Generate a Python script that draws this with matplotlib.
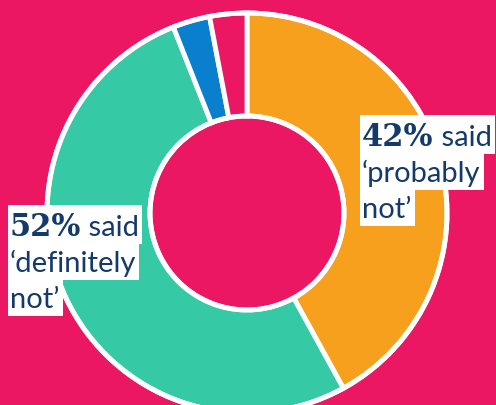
import matplotlib
matplotlib.use("Agg")
import matplotlib.pyplot as plt
from matplotlib.patches import Rectangle

# Survey answers
respuestas = ["probably not", "definitely not", "probably yes", "definitely yes"]
porcentajes = [42, 52, 3, 3]
colores = ["#F7A01E", "#35C9A5", "#0A7FCE", "#EC1763"]

fondo = "#EC1763"
azul_texto = "#143A6B"

W, H = 496, 406
fig = plt.figure(figsize=(W / 100, H / 100), dpi=100, facecolor=fondo)
ax = fig.add_axes([0, 0, 1, 1])

# Donut
centro = (247, H - 214)
radio = 200
ax.pie(porcentajes, colors=colores, startangle=90, counterclock=False,
       center=centro, radius=radio, frame=True,
       wedgeprops=dict(width=103, edgecolor="white", linewidth=3.5))
ax.add_patch(plt.Circle(centro, radio, fill=False, edgecolor="white", lw=3.5, zorder=5))
ax.add_patch(plt.Circle(centro, radio - 103, fill=False, edgecolor="white", lw=3.5, zorder=5))
ax.set_xlim(0, W)
ax.set_ylim(0, H)
ax.set_aspect("auto")
ax.axis("off")


def etiqueta(x, base, pct, lineas, tam=21):
    """Label with a white box behind each line."""
    fig.canvas.draw()
    r = fig.canvas.get_renderer()
    y0 = H - base
    t1 = ax.text(x, y0, f"{pct}%", fontsize=tam + 1, fontweight="heavy",
                 family="DejaVu Serif", color=azul_texto, va="baseline", zorder=10)
    ext = t1.get_window_extent(r)
    t2 = ax.text(ext.x1, y0, " said", fontsize=tam, family="Lato",
                 color=azul_texto, va="baseline", zorder=10)
    textos = [[t1, t2]]
    for i, linea in enumerate(lineas):
        t = ax.text(x, y0 - 36 * (i + 1), linea, fontsize=tam, family="Lato",
                    color=azul_texto, va="baseline", zorder=10)
        textos.append([t])
    for i, fila in enumerate(textos):
        derecha = max(t.get_window_extent(r).x1 for t in fila)
        yb = y0 - 36 * i
        ax.add_patch(Rectangle((x - 2, yb - 9), derecha - x + 5, 36 + (1 if i else 3),
                               facecolor="white", edgecolor="none", zorder=9))


etiqueta(362, 146, porcentajes[0], ["\u2018probably", "not\u2019"])
etiqueta(10, 236, porcentajes[1], ["\u2018definitely", "not\u2019"])

fig.savefig("out.png", dpi=100, facecolor=fondo)
